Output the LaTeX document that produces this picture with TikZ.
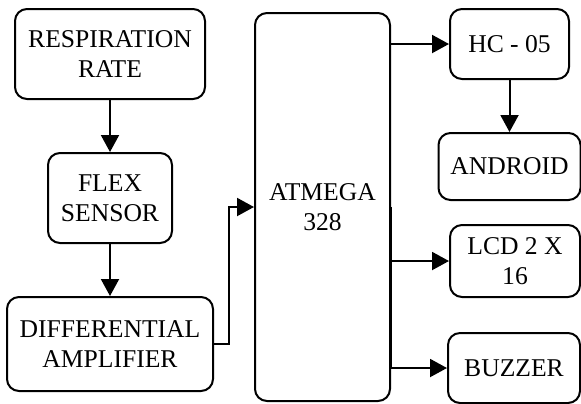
\documentclass[tikz,border=0pt]{standalone}
\usepackage{fontspec}
\setmainfont{Liberation Serif}
\usetikzlibrary{arrows.meta}
\tikzset{>={Triangle[length=8.5pt,width=9pt]}}

\begin{document}
\begin{tikzpicture}[x=0.5pt,y=-0.5pt,
    block/.style={draw, line width=1pt, rounded corners=6pt, align=center, inner sep=0pt,
        font=\fontsize{12.8}{15}\selectfont},
    link/.style={->, line width=1pt}]
    \def\lcol{110}
    \def\rcol{509.5}

    \useasboundingbox (0,0) rectangle (581,403);

    % Sensor chain
    \node[block, minimum width=95pt, minimum height=45pt] (resp) at (\lcol,54) {RESPIRATION\\RATE};
    \node[block, minimum width=62pt, minimum height=45pt] (flex) at (\lcol,198) {FLEX\\SENSOR};
    \node[block, minimum width=103pt, minimum height=47pt] (diff) at (\lcol,344) {DIFFERENTIAL\\AMPLIFIER};

    % Controller
    \node[block, minimum width=67.5pt, minimum height=194pt] (atmega) at (322.5,207) {ATMEGA\\328};

    % Outputs
    \node[block, minimum width=59.5pt, minimum height=35pt] (hc) at (\rcol,44) {HC - 05};
    \node[block, minimum width=71pt, minimum height=33.5pt] (android) at (\rcol,166.5) {ANDROID};
    \node[block, minimum width=65pt, minimum height=36pt] (lcd) at (515,261) {LCD 2 X\\16};
    \node[block, minimum width=66pt, minimum height=35pt] (buzzer) at (514,368) {BUZZER};

    % Links
    \draw[link] (resp) -- (flex);
    \draw[link] (flex) -- (diff);
    \draw[link] (diff.east) -- ++(15,0) |- (atmega.west);
    \draw[link] (atmega.east |- hc.west) -- (hc.west);
    \draw[link] (hc) -- (android);
    \draw[link] (atmega.east) |- (lcd.west);
    \draw[link] (atmega.east) |- (buzzer.west);
\end{tikzpicture}
\end{document}
